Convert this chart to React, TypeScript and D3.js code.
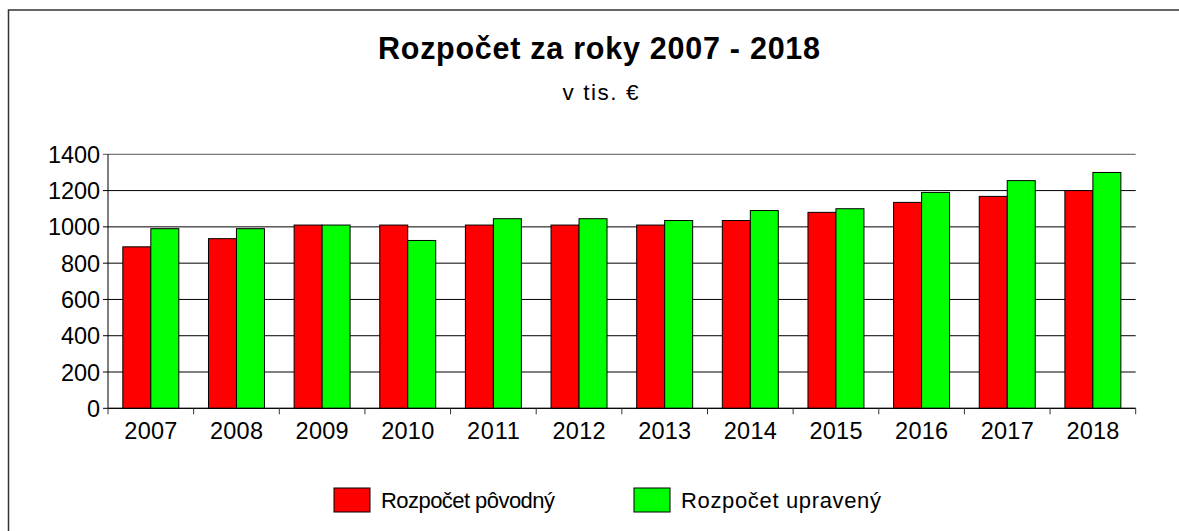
import React from "react";
import * as d3 from "d3";

const years = ["2007","2008","2009","2010","2011","2012","2013","2014","2015","2016","2017","2018"];
const povodny = [890, 935, 1010, 1010, 1010, 1010, 1010, 1035, 1080, 1135, 1168, 1200];
const upraveny = [990, 990, 1010, 925, 1045, 1045, 1035, 1090, 1100, 1190, 1255, 1300];
const yTicks = [0, 200, 400, 600, 800, 1000, 1200, 1400];
const seriesNames = ["Rozpočet pôvodný", "Rozpočet upravený"];
const seriesColors = ["#FF0000", "#00FF00"];

const W = 1179, H = 531;
const FONT = "'Liberation Sans', Arial, sans-serif";

export default function App() {
  const left = 108, right = 1135.7, top = 154.3, bottom = 408.3;
  const x = d3.scaleBand<string>().domain(years).range([left, right]).padding(0);
  const sub = d3.scaleBand<string>().domain(["a", "b"]).range([0, x.bandwidth()]).paddingInner(0).paddingOuter(0.53);
  const y = d3.scaleLinear().domain([0, 1400]).range([bottom, top]);
  const boundaries = years.map((yr) => x(yr)!).concat([right]);
  const series = [povodny, upraveny];

  return (
    <svg width={W} height={H} style={{ position: "absolute", left: 0, top: 0, overflow: "hidden" }} fontFamily={FONT}>
      <rect x={0} y={0} width={W} height={H} fill="#fff" />
      <rect x={8.5} y={10} width={1300} height={700} fill="none" stroke="#333" strokeWidth={1.5} />
      <text x={599} y={59} textAnchor="middle" fontSize={30.5} fontWeight="bold" textLength={442} lengthAdjust="spacing">
        Rozpočet za roky 2007 - 2018
      </text>
      <text x={600.5} y={99.5} textAnchor="middle" fontSize={22.5} textLength={76} lengthAdjust="spacing">
        v tis. €
      </text>
      {yTicks.map((t) => (
        <g key={t}>
          <line x1={left - 5} x2={right} y1={y(t)} y2={y(t)} stroke={t === 1400 ? "#555" : "#000"} strokeWidth={1} />
          <text x={100} y={y(t) + 8.5} textAnchor="end" fontSize={23.5} textLength={t === 0 ? 13 : t < 1000 ? 39 : 52} lengthAdjust="spacing">
            {t}
          </text>
        </g>
      ))}
      {years.map((yr, i) =>
        series.map((s, j) => (
          <rect
            key={yr + j}
            x={x(yr)! + sub(j === 0 ? "a" : "b")!}
            y={y(s[i])}
            width={sub.bandwidth()}
            height={y(0) - y(s[i])}
            fill={seriesColors[j]}
            stroke="#000"
            strokeWidth={1}
          />
        ))
      )}
      <line x1={left} x2={left} y1={top} y2={bottom} stroke="#000" strokeWidth={1} />
      <line x1={left} x2={right} y1={bottom} y2={bottom} stroke="#000" strokeWidth={1} />
      {boundaries.map((bx, i) => (
        <line key={i} x1={bx} x2={bx} y1={bottom} y2={bottom + 6} stroke="#333" strokeWidth={1} />
      ))}
      {years.map((yr) => (
        <text key={yr} x={x(yr)! + x.bandwidth() / 2} y={439} textAnchor="middle" fontSize={23.5} textLength={53} lengthAdjust="spacing">
          {yr}
        </text>
      ))}
      {seriesNames.map((n, j) => {
        const lx = j === 0 ? 334 : 634;
        return (
          <g key={n}>
            <rect x={lx} y={488} width={36} height={24} fill={seriesColors[j]} stroke="#000" strokeWidth={1} />
            <text x={lx + 47} y={508} fontSize={22} textLength={j === 0 ? 174 : 200} lengthAdjust="spacing">
              {n}
            </text>
          </g>
        );
      })}
    </svg>
  );
}
